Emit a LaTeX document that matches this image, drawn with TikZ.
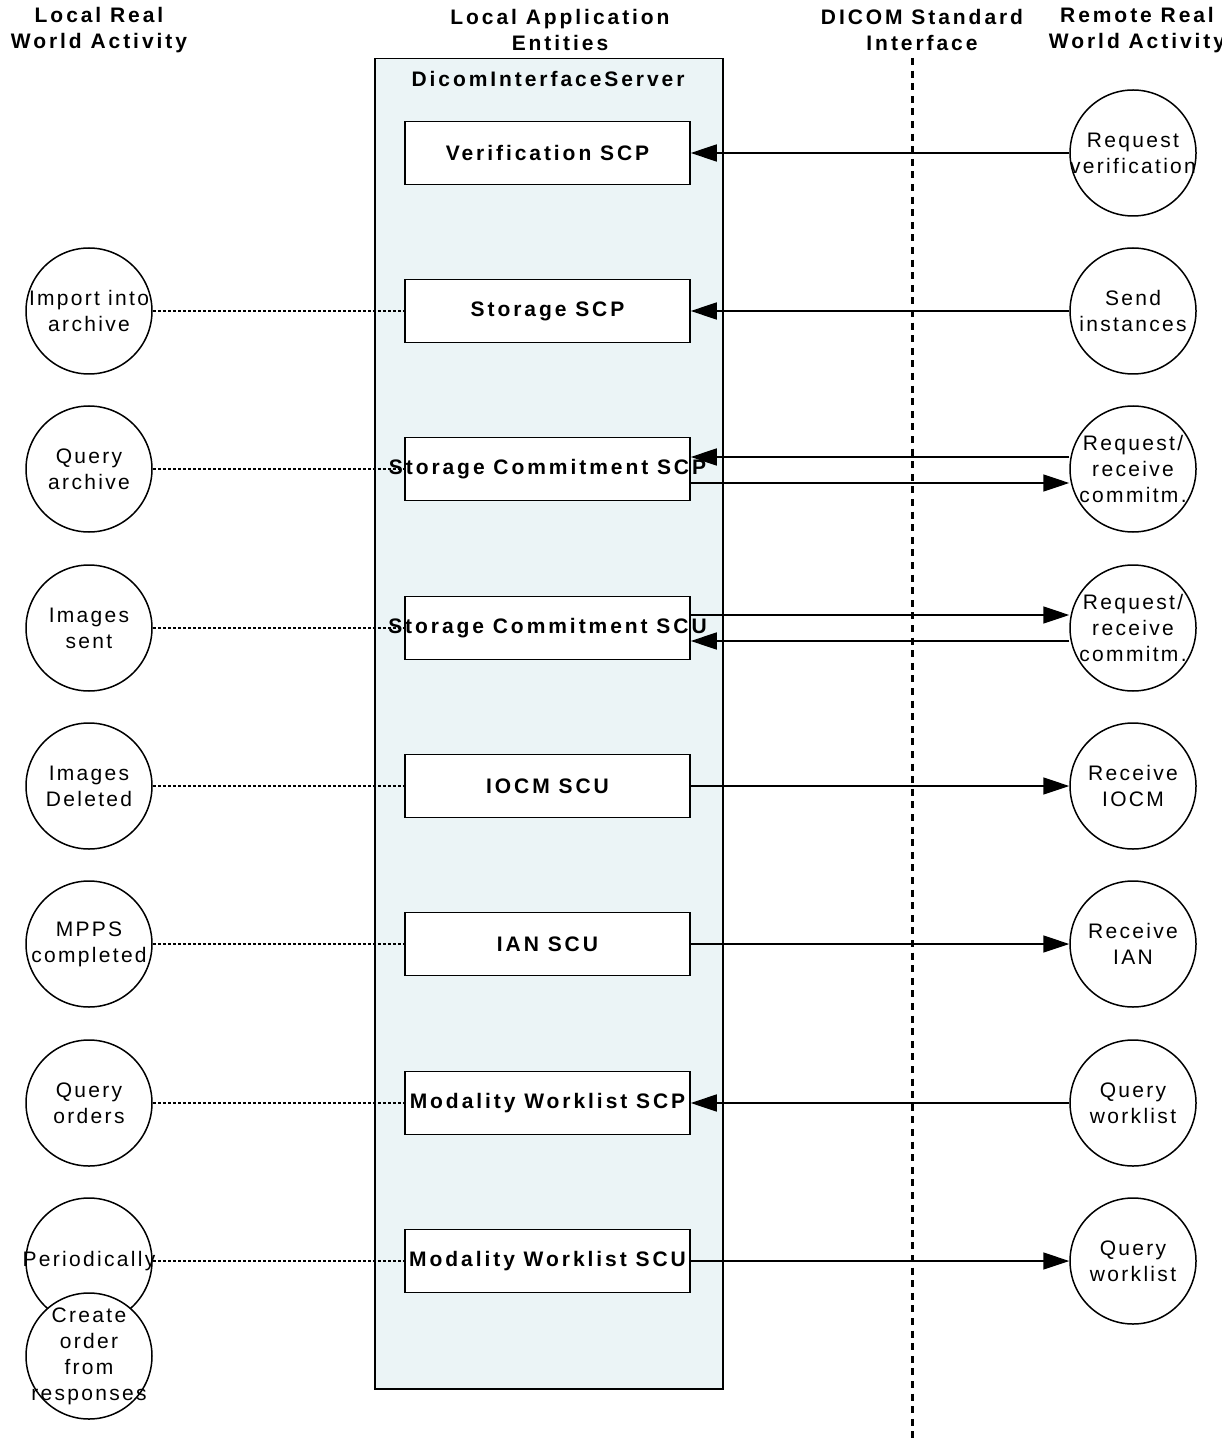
\documentclass[tikz,border=0pt]{standalone}
\usepackage{fontspec}
\setmainfont{Liberation Sans}[LetterSpace=11, BoldFeatures={LetterSpace=14}]
\usetikzlibrary{arrows.meta}
\definecolor{srvfill}{RGB}{235,244,246}
\begin{document}
\begin{tikzpicture}[x=0.5pt,y=-0.5pt,
  every node/.style={font=\fontsize{10.5pt}{13pt}\selectfont},
  hdr/.style={font=\fontsize{10.5pt}{13pt}\selectfont\bfseries, align=center, inner sep=0pt},
  ae/.style={draw, fill=white, line width=0.75pt, minimum width=142.5pt, minimum height=31.5pt, inner sep=0pt},
  aelbl/.style={font=\fontsize{10.5pt}{13pt}\selectfont\bfseries, inner sep=0pt},
  act/.style={draw, circle, line width=0.75pt, minimum size=63pt, inner sep=0pt},
  atxt/.style={align=center, inner sep=0pt},
  arr/.style={line width=0.75pt, -{Triangle[length=13pt,width=8.5pt]}},
  dotln/.style={line width=0.6pt, dash pattern=on 1.5pt off 1pt},
  dashv/.style={line width=1.5pt, dash pattern=on 3.5pt off 2.8pt},
]
\useasboundingbox (0,0) rectangle (1221,1443);

% headers
\node[hdr] (h1) at (99,30) {Local Real\\World Activity};
\node[hdr] (h2) at (560,30) {Local Application\\Entities};
\node[hdr] (h3) at (922,30) {DICOM Standard\\Interface};
\node[hdr] (h4) at (1137,30) {Remote Real\\World Activity};

% server box
\node[draw, fill=srvfill, line width=0.75pt, minimum width=174pt, minimum height=665pt, inner sep=0pt, anchor=north west] (srv) at (374,58) {};
\node[aelbl] (srvt) at (548,79) {DicomInterfaceServer};

% application entity boxes
\node[ae, label={[aelbl]center:Verification SCP}] (vs) at (547.5,153) {};
\node[ae, label={[aelbl]center:Storage SCP}] (ss) at (547.5,311) {};
\node[ae, label={[aelbl]center:Storage Commitment SCP}] (scp) at (547.5,469) {};
\node[ae, label={[aelbl]center:Storage Commitment SCU}] (scu) at (547.5,628) {};
\node[ae, label={[aelbl]center:IOCM SCU}] (iocm) at (547.5,786) {};
\node[ae, label={[aelbl]center:IAN SCU}] (ian) at (547.5,944) {};
\node[ae, label={[aelbl]center:Modality Worklist SCP}] (mwp) at (547.5,1103) {};
\node[ae, label={[aelbl]center:Modality Worklist SCU}] (mwu) at (547.5,1261) {};

% remote activities
\node[act, label={[atxt]center:Request\\verification}] (rv) at (1133,153) {};
\node[act, label={[atxt]center:Send\\instances}] (rs) at (1133,311) {};
\node[act, label={[atxt]center:Request/\\receive\\commitm.}] (rc1) at (1133,469) {};
\node[act, label={[atxt]center:Request/\\receive\\commitm.}] (rc2) at (1133,628) {};
\node[act, label={[atxt]center:Receive\\IOCM}] (ri) at (1133,786) {};
\node[act, label={[atxt]center:Receive\\IAN}] (rn) at (1133,944) {};
\node[act, label={[atxt]center:Query\\worklist}] (rq1) at (1133,1103) {};
\node[act, label={[atxt]center:Query\\worklist}] (rq2) at (1133,1261) {};

% local activities
\node[act, label={[atxt]center:Import into\\archive}] (li) at (89,311) {};
\node[act, label={[atxt]center:Query\\archive}] (lq) at (89,469) {};
\node[act, label={[atxt]center:Images\\sent}] (lis) at (89,628) {};
\node[act, label={[atxt]center:Images\\Deleted}] (lid) at (89,786) {};
\node[act, label={[atxt]center:MPPS\\completed}] (lm) at (89,944) {};
\node[act, label={[atxt]center:Query\\orders}] (lo) at (89,1103) {};
\node[act, label={[atxt]center:Periodically}] (lp) at (89,1261) {};
\node[act, fill=white, label={[atxt]center:Create\\order\\from\\responses}] (lc) at (89,1356) {};

% dotted links
\draw[dotln] (li.east) -- (ss.west);
\draw[dotln] (lq.east) -- (scp.west);
\draw[dotln] (lis.east) -- (scu.west);
\draw[dotln] (lid.east) -- (iocm.west);
\draw[dotln] (lm.east) -- (ian.west);
\draw[dotln] (lo.east) -- (mwp.west);
\draw[dotln] (lp.east) -- (mwu.west);

% DICOM interface line
\coordinate (dt) at (912,58);
\coordinate (db) at (912,1443);
\draw[dashv] (dt) -- (db);

% arrows
\draw[arr] (rv.west) -- (vs.east);
\draw[arr] (rs.west) -- (ss.east);
\draw[arr] ([yshift=6pt]rc1.west) -- ([yshift=6pt]scp.east);
\draw[arr] ([yshift=-7pt]scp.east) -- ([yshift=-7pt]rc1.west);
\draw[arr] ([yshift=6.5pt]scu.east) -- ([yshift=6.5pt]rc2.west);
\draw[arr] ([yshift=-6.5pt]rc2.west) -- ([yshift=-6.5pt]scu.east);
\draw[arr] (iocm.east) -- (ri.west);
\draw[arr] (ian.east) -- (rn.west);
\draw[arr] (rq1.west) -- (mwp.east);
\draw[arr] (mwu.east) -- (rq2.west);
\end{tikzpicture}
\end{document}
